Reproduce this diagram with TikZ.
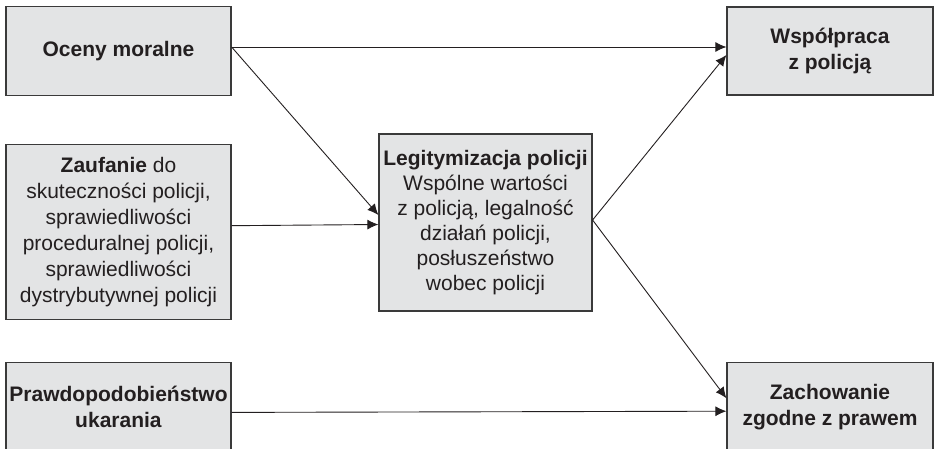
\documentclass[tikz,border=0pt]{standalone}
\usepackage{fontspec}
\setmainfont{Liberation Sans}
\usetikzlibrary{positioning,arrows.meta}
\definecolor{boxfill}{HTML}{E3E4E5}
\definecolor{boxline}{HTML}{3A3A3A}
\definecolor{ink}{HTML}{231F20}
\tikzstyle{line} = [draw=ink, line width=0.9pt, -{Latex[length=11pt,width=10pt]}]

\begin{document}
\begin{tikzpicture}[
	x=1pt, y=1pt,
	node distance=47.5pt,
	factor/.style={
		rectangle,
		minimum width=225pt,
		minimum height=89pt,
		fill=boxfill,
		draw=boxline,
		line width=1.2pt,
		text=ink,
		font=\fontsize{21}{26}\selectfont,
		align=center,
		inner sep=2pt,
	},
	outcome/.style={
		factor,
		minimum width=206pt,
		minimum height=88pt,
	},
	mediator/.style={
		factor,
		minimum width=213pt,
		minimum height=177pt,
		font=\fontsize{21}{25}\selectfont,
	}
]
	\useasboundingbox (0,0) rectangle (936,448);

	\node (oceny) [factor] at (118.5,397)
		{\textbf{Oceny moralne}};
	\node (zauf) [factor,minimum height=175pt,below=of oceny]
		{\textbf{Zaufanie} do\\skuteczności policji,\\sprawiedliwości\\proceduralnej policji,\\sprawiedliwości\\dystrybutywnej policji};
	\node (prawd) [factor,below=42pt of zauf]
		{\textbf{Prawdopodobieństwo}\\\textbf{ukarania}};
	\node (legit) [mediator] at (485.5,225.5)
		{\textbf{Legitymizacja policji}\\Wspólne wartości\\z policją, legalność\\działań policji,\\posłuszeństwo\\wobec policji};
	\node (wsp) [outcome] at (830,397)
		{\textbf{Współpraca}\\\textbf{z policją}};
	\node (zach) [outcome,minimum height=89pt,below=266pt of wsp]
		{\textbf{Zachowanie}\\\textbf{zgodne z prawem}};

	\draw [line] ([yshift=4pt]oceny.east) -- ([yshift=4pt]wsp.west);
	\draw [line] ([yshift=4pt]oceny.east) -- ([yshift=7.5pt]legit.west);
	\draw [line] ([yshift=6pt]zauf.east) -- ([yshift=-2pt]legit.west);
	\draw [line] ([yshift=2.5pt]legit.east) -- ([yshift=-4pt]wsp.west);
	\draw [line] ([yshift=2.5pt]legit.east) -- ([yshift=8.5pt]zach.west);
	\draw [line] ([yshift=-5.5pt]prawd.east) -- ([yshift=-4.5pt]zach.west);

\end{tikzpicture}
\end{document}
